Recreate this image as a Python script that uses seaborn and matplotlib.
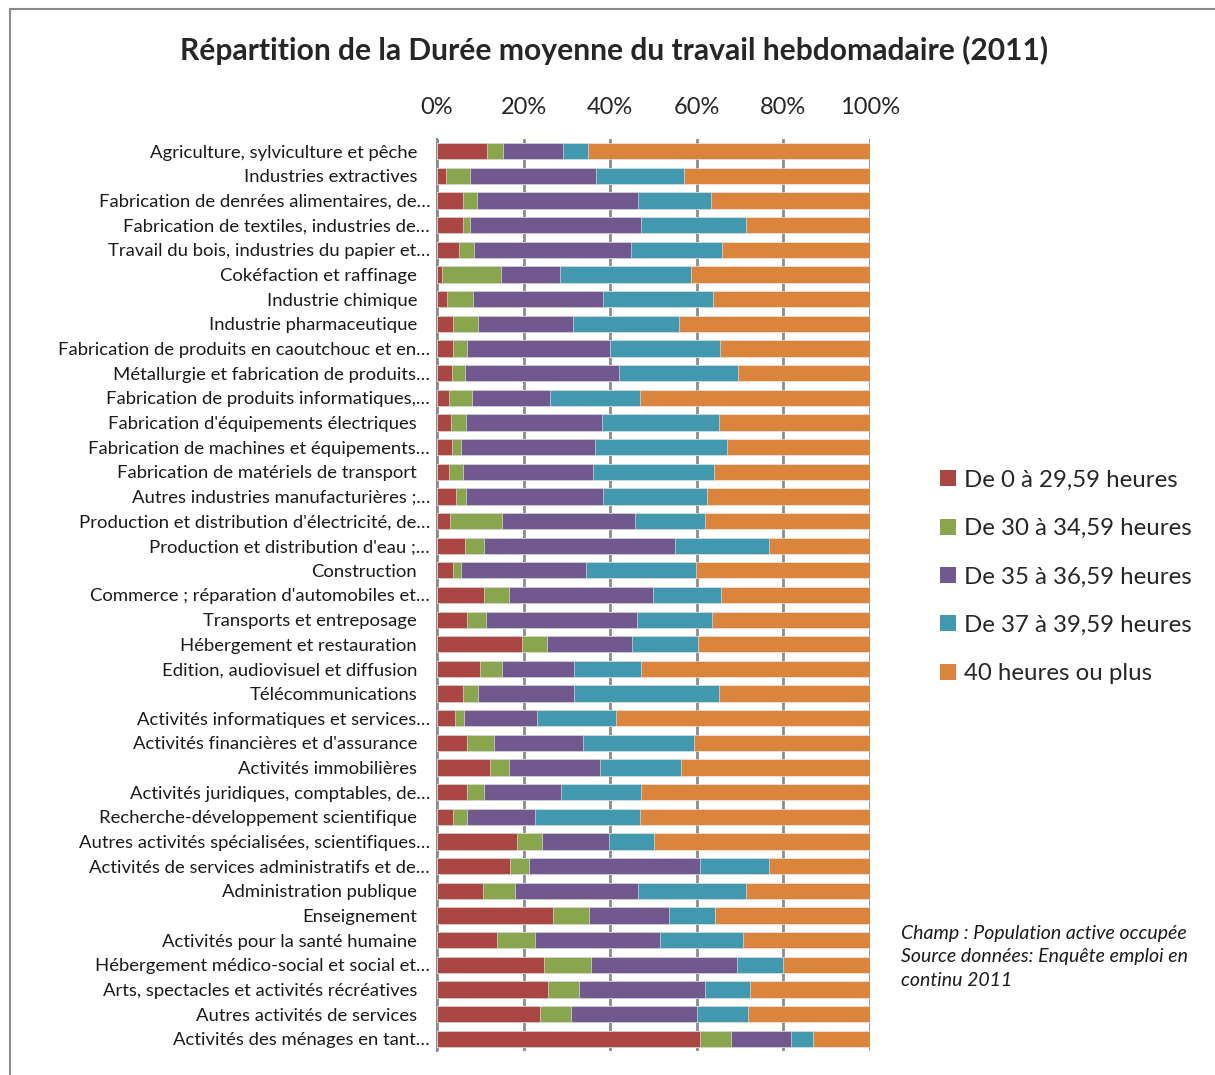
import pandas as pd
import matplotlib.pyplot as plt
import matplotlib.transforms as mtransforms
from matplotlib.patches import Patch, Rectangle
import seaborn as sns

# Secteurs (ordre du graphique, de haut en bas)
secteurs = [
    "Agriculture, sylviculture et pêche",
    "Industries extractives",
    "Fabrication de denrées alimentaires, de…",
    "Fabrication de textiles, industries de…",
    "Travail du bois, industries du papier et…",
    "Cokéfaction et raffinage",
    "Industrie chimique",
    "Industrie pharmaceutique",
    "Fabrication de produits en caoutchouc et en…",
    "Métallurgie et fabrication de produits…",
    "Fabrication de produits informatiques,…",
    "Fabrication d'équipements électriques",
    "Fabrication de machines et équipements…",
    "Fabrication de matériels de transport",
    "Autres industries manufacturières ;…",
    "Production et distribution d'électricité, de…",
    "Production et distribution d'eau ;…",
    "Construction",
    "Commerce ; réparation d'automobiles et…",
    "Transports et entreposage",
    "Hébergement et restauration",
    "Edition, audiovisuel et diffusion",
    "Télécommunications",
    "Activités informatiques et services…",
    "Activités financières et d'assurance",
    "Activités immobilières",
    "Activités juridiques, comptables, de…",
    "Recherche-développement scientifique",
    "Autres activités spécialisées, scientifiques…",
    "Activités de services administratifs et de…",
    "Administration publique",
    "Enseignement",
    "Activités pour la santé humaine",
    "Hébergement médico-social et social et…",
    "Arts, spectacles et activités récréatives",
    "Autres activités de services",
    "Activités des ménages en tant…",
]

# Parts en % par tranche de durée
de_0_29 = [11.5, 2.0, 6.0, 6.0, 5.1, 1.2, 2.2, 3.8, 3.8, 3.4, 2.7, 3.2, 3.4, 2.7,
           4.5, 2.9, 6.4, 3.8, 10.8, 6.9, 19.6, 10.0, 6.0, 4.2, 7.0, 12.2, 6.9,
           3.6, 18.4, 16.8, 10.6, 26.7, 13.9, 24.6, 25.6, 23.7, 60.7]
de_30_34 = [3.8, 5.7, 3.3, 1.7, 3.5, 13.5, 6.0, 5.6, 3.2, 3.0, 5.4, 3.5, 2.1, 3.4,
            2.2, 12.0, 4.4, 1.8, 5.9, 4.4, 5.7, 5.1, 3.5, 2.1, 6.1, 4.5, 4.0,
            3.4, 5.9, 4.5, 7.4, 8.5, 8.8, 11.0, 7.1, 7.2, 7.3]
de_35_36 = [13.7, 29.0, 37.2, 39.3, 36.2, 13.8, 30.1, 22.0, 32.9, 35.7, 18.0, 31.4,
            30.9, 30.0, 31.6, 30.8, 44.2, 28.8, 33.1, 35.0, 19.8, 16.5, 22.1, 16.7,
            20.7, 20.9, 17.7, 15.7, 15.5, 39.4, 28.4, 18.4, 28.8, 33.7, 29.1, 29.1, 13.7]
de_37_39 = [5.8, 20.3, 16.7, 24.3, 21.1, 30.1, 25.4, 24.5, 25.5, 27.3, 20.8, 27.1,
            30.5, 27.8, 24.0, 16.2, 21.7, 25.5, 15.7, 17.1, 15.1, 15.5, 33.6, 18.3,
            25.6, 18.8, 18.4, 24.1, 10.4, 16.0, 24.9, 10.7, 19.2, 10.7, 10.5, 11.9, 5.1]
plus_40 = [65.2, 43.0, 36.8, 28.7, 34.1, 41.4, 36.3, 44.1, 34.6, 30.6, 53.1, 34.8,
           33.1, 36.1, 37.7, 38.1, 23.3, 40.1, 34.5, 36.6, 39.8, 52.9, 34.8, 58.7,
           40.6, 43.6, 53.0, 53.2, 49.8, 23.3, 28.7, 35.7, 29.3, 20.0, 27.7, 28.1, 13.2]

tranches = ["De 0 à 29,59 heures", "De 30 à 34,59 heures", "De 35 à 36,59 heures",
            "De 37 à 39,59 heures", "40 heures ou plus"]
couleurs = ["#AA4643", "#89A54E", "#71588F", "#4198AF", "#DB843D"]

df = pd.DataFrame({"secteur": secteurs})
for nom, vals in zip(tranches, [de_0_29, de_30_34, de_35_36, de_37_39, plus_40]):
    df[nom] = vals
# normaliser à 100 %
tot = df[tranches].sum(axis=1)
for nom in tranches:
    df[nom] = df[nom] / tot * 100
cum = df[tranches].cumsum(axis=1)

sns.set_style("white")
plt.rcParams['font.family'] = ['Lato', 'DejaVu Sans']

fig = plt.figure(figsize=(12.15, 10.75), dpi=100)
ax = fig.add_axes([437 / 1215, 1 - 1051 / 1075, 433 / 1215, (1051 - 139) / 1075])

# barres empilées : on dessine les cumuls du plus grand au plus petit
for nom, col in reversed(list(zip(tranches, couleurs))):
    sns.barplot(x=cum[nom], y=df["secteur"], orient="h", color=col, width=0.66,
                order=secteurs, ax=ax, edgecolor="#f0f0f0", linewidth=0.4,
                saturation=1, zorder=3)

ax.set_xlim(0, 100)
ax.set_ylim(len(secteurs) - 0.5, -0.5)
ax.set_xticks([0, 20, 40, 60, 80, 100])
ax.set_xticklabels(["0%", "20%", "40%", "60%", "80%", "100%"], fontsize=17)
ax.xaxis.tick_top()
ax.tick_params(axis="x", length=0, pad=15)
ax.set_xlabel("")
ax.set_ylabel("")
ax.xaxis.grid(True, color="#8c8c8c", linewidth=2, zorder=0)
ax.set_axisbelow(True)

ax.tick_params(axis="y", which="major", length=0, pad=5, labelsize=13.3, labelcolor="#1a1a1a")
ax.set_yticks([i + 0.5 for i in range(-1, len(secteurs))], minor=True)
ax.tick_params(axis="y", which="minor", length=5, width=1, color="#8c8c8c")

for s in ["top", "right", "bottom"]:
    ax.spines[s].set_visible(False)
ax.spines["left"].set_color("#8c8c8c")
ax.spines["left"].set_linewidth(1.5)

# les libellés complets sont décalés vers la gauche comme dans Excel
decal = mtransforms.ScaledTranslation(-13 / 100, 0, fig.dpi_scale_trans)
for lab in ax.get_yticklabels():
    if not lab.get_text().endswith("…"):
        lab.set_transform(lab.get_transform() + decal)

fig.text(614 / 1215, 1 - 50 / 1075, "Répartition de la Durée moyenne du travail hebdomadaire (2011)",
         ha="center", va="center", fontsize=21.6, fontweight="bold")

handles = [Patch(facecolor=c, edgecolor="none") for c in couleurs]
ax.legend(handles, tranches, loc="center left", bbox_to_anchor=(940 / 1215, 1 - 577 / 1075),
          bbox_transform=fig.transFigure, frameon=False, fontsize=17.3, handlelength=0.65,
          handleheight=0.65, handletextpad=0.35, labelspacing=1.14, borderpad=0, borderaxespad=0)

fig.text(901 / 1215, 1 - 925 / 1075,
         "Champ : Population active occupée\nSource données: Enquête emploi en\ncontinu 2011",
         ha="left", va="top", fontsize=14, style="italic", linespacing=1.45, color="#1a1a1a")

fig.patches.append(Rectangle((10 / 1215, -0.1), 1.2, 1.1 - 9 / 1075, transform=fig.transFigure,
                             fill=False, edgecolor="#8c8c8c", linewidth=1.5))

plt.savefig("out.png", dpi=100)
